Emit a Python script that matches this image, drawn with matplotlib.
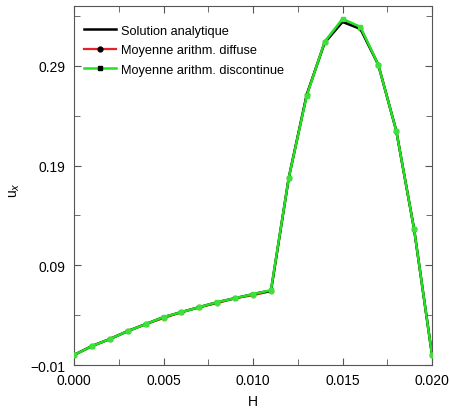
import matplotlib
matplotlib.use("Agg")
import matplotlib.pyplot as plt
from matplotlib.ticker import MultipleLocator, FixedLocator

plt.rcParams['font.family'] = ['Liberation Sans', 'DejaVu Sans']

H = [0.000, 0.001, 0.002, 0.003, 0.004, 0.005, 0.006, 0.007, 0.008, 0.009, 0.010,
     0.011, 0.012, 0.013, 0.014, 0.015, 0.016, 0.017, 0.018, 0.019, 0.020]
u_diffuse = [0.000, 0.009, 0.016, 0.024, 0.031, 0.037, 0.043, 0.048, 0.052, 0.057, 0.060,
             0.064, 0.178, 0.261, 0.314, 0.336, 0.328, 0.291, 0.225, 0.126, 0.000]
u_discont = [0.000, 0.009, 0.016, 0.024, 0.031, 0.038, 0.043, 0.048, 0.053, 0.057, 0.061,
             0.065, 0.178, 0.260, 0.314, 0.337, 0.329, 0.291, 0.225, 0.126, 0.000]
H_an = [0.000, 0.001, 0.002, 0.003, 0.004, 0.005, 0.006, 0.007, 0.008, 0.009, 0.010,
        0.0105, 0.011, 0.012, 0.013, 0.014, 0.015, 0.016, 0.017, 0.018, 0.019, 0.020]
u_an = [0.000, 0.009, 0.016, 0.024, 0.031, 0.038, 0.043, 0.048, 0.053, 0.057, 0.061,
        0.063, 0.064, 0.178, 0.261, 0.313, 0.334, 0.327, 0.291, 0.225, 0.126, 0.000]

fig = plt.figure(figsize=(4.49, 4.10), dpi=100)
ax = fig.add_axes([0.1648, 0.1073, 0.7974, 0.8757])

ax.plot(H_an, u_an, color='black', lw=1.8, label='Solution analytique', zorder=4)
ax.plot(H, u_diffuse, color='#e8202a', lw=1.6, marker='o', ms=3.5,
        mfc='#6fcf3a', mec='#6fcf3a', label='Moyenne arithm. diffuse', zorder=3)
ax.plot(H, u_discont, color='#22e022', lw=1.8, marker='s', ms=3.2,
        mfc='#3de03d', mec='#3de03d', label='Moyenne arithm. discontinue', zorder=5)

ax.set_xlim(0, 0.020)
ax.set_ylim(-0.01, 0.35)
ax.xaxis.set_major_locator(FixedLocator([0.0, 0.005, 0.010, 0.015, 0.020]))
ax.xaxis.set_minor_locator(MultipleLocator(0.0025))
ax.yaxis.set_major_locator(FixedLocator([-0.01, 0.09, 0.19, 0.29]))
ax.yaxis.set_minor_locator(FixedLocator([0.04, 0.14, 0.24, 0.34]))
ax.set_xticklabels(['0.000', '0.005', '0.010', '0.015', '0.020'])
ax.set_yticklabels(['\u22120.01', '0.09', '0.19', '0.29'])
ax.tick_params(which='both', direction='in', top=True, right=True, labelsize=10,
               color='#555555')
ax.tick_params(which='major', length=5)
ax.tick_params(which='minor', length=4)
ax.tick_params(axis='x', pad=6)
ax.tick_params(axis='y', pad=6)
for s in ax.spines.values():
    s.set_color('#555555')

ax.set_xlabel('H', fontsize=10, labelpad=5)
ax.set_ylabel('u$_x$', fontsize=10)
ax.yaxis.set_label_coords(-0.145, 0.49)

leg = ax.legend(loc='upper left', bbox_to_anchor=(0.0, 0.975), frameon=False,
                fontsize=9.2, handlelength=2.5, borderaxespad=0.35,
                labelspacing=0.6, handletextpad=0.45)
for h in leg.legend_handles[1:]:
    h.set_markerfacecolor('black')
    h.set_markeredgecolor('black')

fig.savefig('out.png', dpi=100)
